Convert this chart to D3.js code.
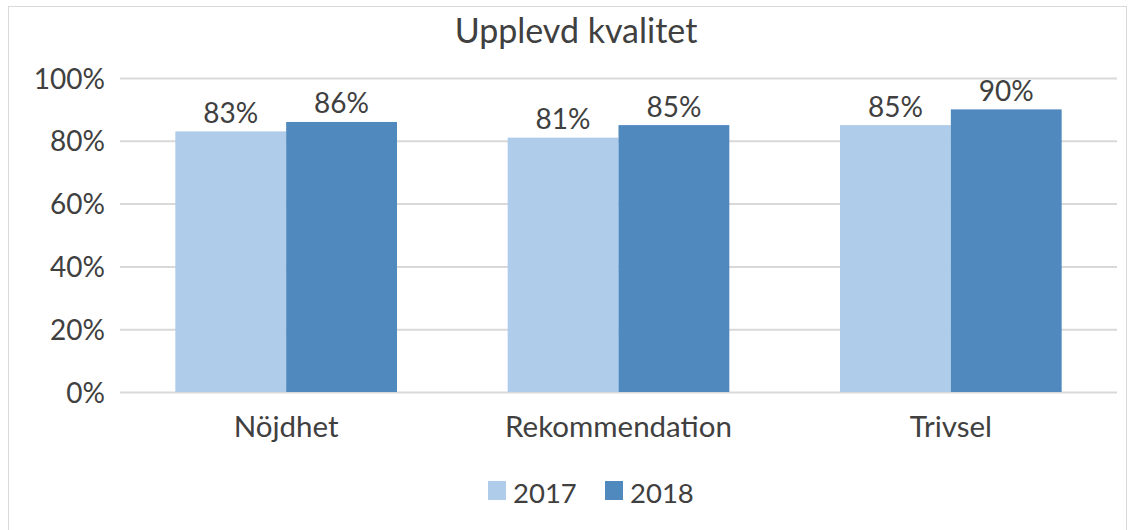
<!DOCTYPE html>
<html><head><meta charset="utf-8">
<script src="https://cdn.jsdelivr.net/npm/d3@7"></script>
<style>body{margin:0;background:#fff}svg{display:block}text{font-family:Lato,"Open Sans",sans-serif;fill:#404040}</style>
</head><body>
<svg id="c" width="1135" height="530"></svg>
<script>
const title = "Upplevd kvalitet";
const categories = ["Nöjdhet", "Rekommendation", "Trivsel"];
const seriesNames = ["2017", "2018"];
const values2017 = [0.83, 0.81, 0.85];
const values2018 = [0.86, 0.85, 0.90];
const yTicks = [0, 0.2, 0.4, 0.6, 0.8, 1.0];
const colors = ["#afcdea", "#4f89be"];

const svg = d3.select("#c");
svg.append("rect").attr("x",8.5).attr("y",6.5).attr("width",1118).attr("height",540)
  .attr("fill","#fff").attr("stroke","#d9d9d9");

const x0 = d3.scaleBand().domain(categories).range([120, 1117]).paddingInner(0.333).paddingOuter(0.1665);
const x1 = d3.scaleBand().domain(seriesNames).range([0, x0.bandwidth()]);
const y = d3.scaleLinear().domain([0, 1]).range([392, 78]);

svg.append("text").attr("x", 576).attr("y", 43).attr("text-anchor","middle")
  .style("font-size","34px").text(title);

const yAxis = svg.append("g").attr("transform","translate(120,0)")
  .call(d3.axisLeft(y).tickValues(yTicks).tickFormat(d3.format(".0%")).tickSize(-997).tickPadding(15));
yAxis.select(".domain").remove();
yAxis.selectAll("line").attr("stroke","#d9d9d9").attr("stroke-width",2);
yAxis.selectAll("text").style("font-size","28px").attr("fill","#404040").attr("dy","0.36em");

const data = categories.map((c,i)=>({cat:c, vals:[values2017[i], values2018[i]]}));
const g = svg.append("g");
data.forEach(d=>{
  d.vals.forEach((v,j)=>{
    const xx = x0(d.cat)+x1(seriesNames[j]);
    g.append("rect").attr("x",xx).attr("y",y(v)).attr("width",x1.bandwidth()).attr("height",y(0)-y(v)).attr("fill",colors[j]);
    g.append("text").attr("x",xx+x1.bandwidth()/2).attr("y",y(v)-8.5).attr("text-anchor","middle")
      .style("font-size","28px").text(d3.format(".0%")(v));
  });
});

const xAxis = svg.append("g").attr("transform","translate(0,392)")
  .call(d3.axisBottom(x0).tickSize(0).tickPadding(24));
xAxis.select(".domain").remove();
xAxis.selectAll("text").style("font-size","29.5px").attr("fill","#404040");

const leg = svg.append("g");
const legX = [488, 605];
seriesNames.forEach((s,j)=>{
  leg.append("rect").attr("x",legX[j]).attr("y",481).attr("width",18).attr("height",19).attr("fill",colors[j]);
  leg.append("text").attr("x",legX[j]+25).attr("y",503).style("font-size","27.5px").text(s);
});
</script>
</body></html>
